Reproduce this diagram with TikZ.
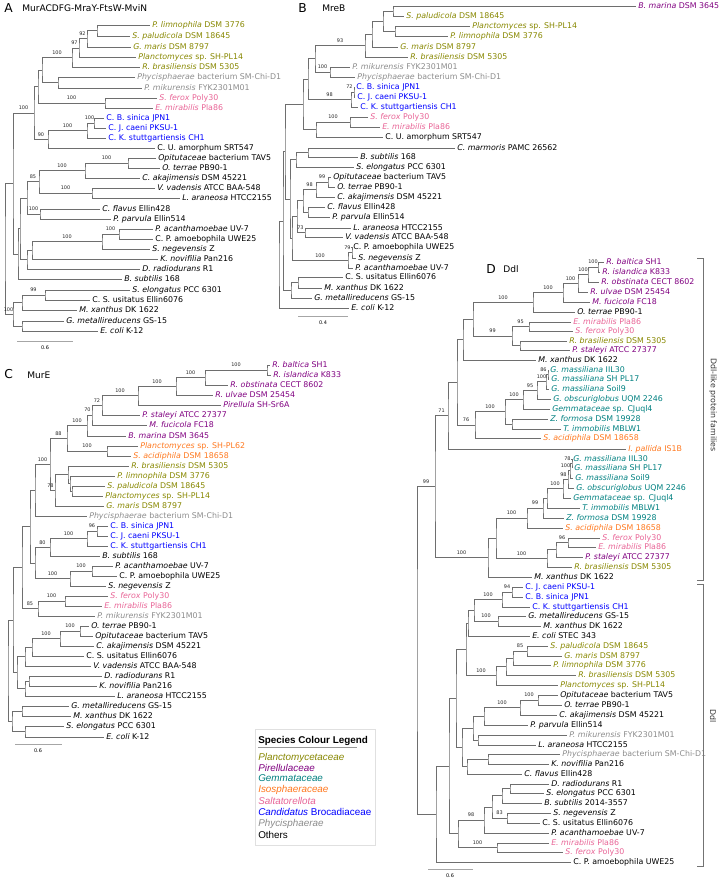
\documentclass[tikz,border=0pt]{standalone}
\usepackage{fontspec}
\setmainfont{DejaVu Sans}
\newfontfamily\legfont{Liberation Sans}
\usetikzlibrary{calc}
\definecolor{cOl}{RGB}{135,135,0}
\definecolor{cPu}{RGB}{128,0,128}
\definecolor{cTe}{RGB}{0,128,128}
\definecolor{cOr}{RGB}{255,120,30}
\definecolor{cPk}{RGB}{232,100,150}
\definecolor{cBl}{RGB}{0,0,255}
\definecolor{cGr}{RGB}{140,140,140}
\definecolor{cBk}{RGB}{0,0,0}
\definecolor{cBr}{RGB}{110,110,110}
\tikzset{
 leaf/.style={font=\fontsize{5.9}{6}\selectfont, inner sep=0pt, anchor=base west},
 supl/.style={font=\fontsize{3.7}{4}\selectfont, inner sep=0pt, anchor=base, text=black!85},
 branch/.style={draw=cBr, line width=0.55pt},
 ptitle/.style={font=\fontsize{9.2}{10}\selectfont, inner sep=0pt, anchor=base west},
 stitle/.style={font=\fontsize{6.8}{7}\selectfont, inner sep=0pt, anchor=base west},
 scalebar/.style={draw=black!35, line width=0.55pt},
 sclab/.style={font=\fontsize{3.7}{4}\selectfont, inner sep=0pt, anchor=base},
 brk/.style={draw=black!55, line width=0.55pt},
 brklab/.style={font=\fontsize{5.9}{6}\selectfont, inner sep=0pt, rotate=-90, text=black!80},
 legitem/.style={font=\legfont\fontsize{7.4}{8}\selectfont, inner sep=0pt, anchor=base west},
}
\newcommand\lf[6]{\coordinate (#1) at ({#2-2},#3);
 \node[leaf,text=#4] (#1t) at ([yshift=-2.2pt]#2,#3) {\textit{#5}#6};}
\newcommand\nd[4]{\path let \p1=(#3), \p2=(#4) in coordinate (#1) at ({#2*0.75pt},{0.5*(\y1+\y2)});
 \draw[branch] (#3) -| (#1) |- (#4);}
\newcommand\spl[3]{\path let \p1=(#1), \p2=(#2) in node[supl] (#1s) at ({min(0.5*(\x1+\x2),\x1-3.4pt)},{\y1+2.4pt}) {#3};}
\begin{document}
\begin{tikzpicture}[x=0.75pt,y=-0.75pt]
\useasboundingbox (0,0) rectangle (720,879);
% ================= Panel A =================
\node[ptitle] (tA) at (4,12) {A};
\node[stitle] (tAt) at (22,11) {MurACDFG-MraY-FtsW-MviN};
\lf{a1}{152}{25}{cOl}{P. limnophila}{ DSM 3776}
\lf{a2}{132}{36}{cOl}{S. paludicola}{ DSM 18645}
\lf{a3}{133}{47}{cOl}{G. maris}{ DSM 8797}
\lf{a4}{138}{57}{cOl}{Planctomyces}{ sp. SH-PL14}
\lf{a5}{142}{67}{cOl}{R. brasiliensis}{ DSM 5305}
\lf{a6}{137}{77}{cGr}{Phycisphaerae}{ bacterium SM-Chi-D1}
\lf{a7}{144}{88}{cGr}{P. mikurensis}{ FYK2301M01}
\lf{a8}{159}{98}{cPk}{S. ferox}{ Poly30}
\lf{a9}{155}{108}{cPk}{E. mirabilis}{ Pla86}
\lf{a10}{106}{118}{cBl}{}{C. B. sinica JPN1}
\lf{a11}{108}{128}{cBl}{}{C. J. caeni PKSU-1}
\lf{a12}{108}{138}{cBl}{}{C. K. stuttgartiensis CH1}
\lf{a13}{157}{148}{cBk}{}{C. U. amorphum SRT547}
\lf{a14}{158}{158}{cBk}{Opitutaceae}{ bacterium TAV5}
\lf{a15}{162}{168}{cBk}{O. terrae}{ PB90-1}
\lf{a16}{142}{178}{cBk}{C. akajimensis}{ DSM 45221}
\lf{a17}{157}{188}{cBk}{V. vadensis}{ ATCC BAA-548}
\lf{a18}{182}{198}{cBk}{L. araneosa}{ HTCC2155}
\lf{a19}{102}{209}{cBk}{C. flavus}{ Ellin428}
\lf{a20}{113}{219}{cBk}{P. parvula}{ Ellin514}
\lf{a21}{155}{229}{cBk}{P. acanthamoebae}{ UV-7}
\lf{a22}{155}{239}{cBk}{}{C. P. amoebophila UWE25}
\lf{a23}{152}{249}{cBk}{S. negevensis}{ Z}
\lf{a24}{160}{259}{cBk}{K. novifilia}{ Pan216}
\lf{a25}{142}{269}{cBk}{D. radiodurans}{ R1}
\lf{a26}{124}{279}{cBk}{B. subtilis}{ 168}
\lf{a27}{132}{290}{cBk}{S. elongatus}{ PCC 6301}
\lf{a28}{92}{300}{cBk}{}{C. S. usitatus Ellin6076}
\lf{a29}{79}{310}{cBk}{M. xanthus}{ DK 1622}
\lf{a30}{66}{321}{cBk}{G. metallireducens}{ GS-15}
\lf{a31}{100}{331}{cBk}{E. coli}{ K-12}
\nd{aa}{97}{a1}{a2}
\nd{a92}{87}{aa}{a3}
\nd{a97}{79}{a92}{a4}
\nd{a100}{72}{a97}{a5}
\nd{ap}{58}{a6}{a7}
\nd{ab}{42}{a100}{ap}
\nd{as}{105}{a8}{a9}
\nd{ac}{38}{ab}{as}
\nd{abs}{94}{a10}{a11}
\nd{abk}{87}{abs}{a12}
\nd{a90}{48}{abk}{a13}
\nd{atop}{34}{ac}{a90}
\nd{ao}{128}{a14}{a15}
\nd{ao2}{85}{ao}{a16}
\nd{av}{92}{a17}{a18}
\nd{a85}{39}{ao2}{av}
\nd{af}{40}{a19}{a20}
\nd{ap1}{27}{a85}{af}
\nd{apc}{119}{a21}{a22}
\nd{ach}{102}{apc}{a23}
\nd{ak}{32}{ach}{a24}
\nd{ad}{27}{ak}{a25}
\nd{aq1}{20}{ap1}{ad}
\nd{aq2}{18}{aq1}{a26}
\nd{aI}{13}{atop}{aq2}
\nd{a99}{45}{a27}{a28}
\nd{am}{22}{a99}{a29}
\nd{ag}{22}{a30}{a31}
\nd{aO}{13}{am}{ag}
\nd{aR}{5}{aI}{aO}
\spl{a92}{a97}{92}
\spl{a97}{a100}{97}
\spl{a100}{ab}{100}
\spl{as}{ac}{100}
\spl{abs}{abk}{100}
\spl{abk}{a90}{100}
\spl{a90}{atop}{90}
\spl{atop}{aI}{100}
\spl{ao}{ao2}{100}
\spl{ao2}{a85}{100}
\spl{av}{a85}{100}
\spl{a85}{ap1}{85}
\spl{af}{ap1}{100}
\spl{apc}{ach}{100}
\spl{ach}{ak}{100}
\spl{a99}{am}{99}
\spl{aO}{aR}{100}
\coordinate (sA1) at (17,341); \coordinate (sA2) at (73,341);
\draw[scalebar] (sA1) -- (sA2);
\node[sclab] (sAl) at (45,349) {0.6};
% ================= Panel B =================
\node[ptitle] (tB) at (298,12) {B};
\node[stitle] (tBt) at (322,11) {MreB};
\lf{b1}{638}{6}{cPu}{B. marina}{ DSM 3645}
\lf{b2}{406}{16}{cOl}{S. paludicola}{ DSM 18645}
\lf{b3}{472}{26}{cOl}{Planctomyces}{ sp. SH-PL14}
\lf{b4}{450}{36}{cOl}{P. limnophila}{ DSM 3776}
\lf{b5}{400}{47}{cOl}{G. maris}{ DSM 8797}
\lf{b6}{410}{57}{cOl}{R. brasiliensis}{ DSM 5305}
\lf{b7}{352}{67}{cGr}{P. mikurensis}{ FYK2301M01}
\lf{b8}{357}{77}{cGr}{Phycisphaerae}{ bacterium SM-Chi-D1}
\lf{b9}{356}{87}{cBl}{}{C. B. sinica JPN1}
\lf{b10}{357}{97}{cBl}{}{C. J. caeni PKSU-1}
\lf{b11}{360}{107}{cBl}{}{C. K. stuttgartiensis CH1}
\lf{b12}{370}{117}{cPk}{S. ferox}{ Poly30}
\lf{b13}{382}{127}{cPk}{E. mirabilis}{ Pla86}
\lf{b14}{385}{137}{cBk}{}{C. U. amorphum SRT547}
\lf{b15}{457}{148}{cBk}{C. marmoris}{ PAMC 26562}
\lf{b16}{360}{157}{cBk}{B. subtilis}{ 168}
\lf{b17}{356}{167}{cBk}{S. elongatus}{ PCC 6301}
\lf{b18}{333}{177}{cBk}{Opitutaceae}{ bacterium TAV5}
\lf{b19}{337}{187}{cBk}{O. terrae}{ PB90-1}
\lf{b20}{337}{197}{cBk}{C. akajimensis}{ DSM 45221}
\lf{b21}{327}{207}{cBk}{C. flavus}{ Ellin428}
\lf{b22}{332}{217}{cBk}{P. parvula}{ Ellin514}
\lf{b23}{353}{228}{cBk}{L. araneosa}{ HTCC2155}
\lf{b24}{345}{237}{cBk}{V. vadensis}{ ATCC BAA-548}
\lf{b25}{353}{247}{cBk}{}{C. P. amoebophila UWE25}
\lf{b26}{358}{258}{cBk}{S. negevensis}{ Z}
\lf{b27}{355}{268}{cBk}{P. acanthamoebae}{ UV-7}
\lf{b28}{345}{277}{cBk}{}{C. S. usitatus Ellin6076}
\lf{b29}{324}{288}{cBk}{M. xanthus}{ DK 1622}
\lf{b30}{314}{298}{cBk}{G. metallireducens}{ GS-15}
\lf{b31}{351}{308}{cBk}{E. coli}{ K-12}
\nd{bn1}{393}{b1}{b2}
\nd{bn2}{395}{b3}{b4}
\nd{bn3}{383}{bn1}{bn2}
\nd{bn4}{372}{bn3}{b5}
\nd{b93}{365}{bn4}{b6}
\nd{bp}{330}{b7}{b8}
\nd{bU1}{315}{b93}{bp}
\nd{bbj}{354}{b9}{b10}
\nd{bbk}{351}{bbj}{b11}
\nd{bU2}{308}{bU1}{bbk}
\nd{bs}{350}{b12}{b13}
\nd{bU3}{316}{bs}{b14}
\nd{bU}{303}{bU2}{bU3}
\nd{bBs}{308}{b15}{b16}
\nd{bBse}{296}{bBs}{b17}
\nd{bno}{328}{b18}{b19}
\nd{b98}{316}{bno}{b20}
\nd{bnf}{308}{b21}{b22}
\nd{bN1}{303}{b98}{bnf}
\nd{b73}{305}{b23}{b24}
\nd{bN}{297}{bN1}{b73}
\nd{b79}{352}{b25}{b26}
\nd{bnc}{348}{b79}{b27}
\nd{bM}{292}{bN}{bnc}
\nd{bL}{290}{bBse}{bM}
\nd{bQ}{285}{bU}{bL}
\nd{bnx}{298}{b28}{b29}
\nd{bng}{291}{bnx}{b30}
\nd{bR1}{283}{bQ}{bng}
\nd{bR}{279}{bR1}{b31}
\spl{b93}{bU1}{93}
\spl{bp}{bU1}{100}
\spl{bbj}{bbk}{72}
\spl{bbk}{bU2}{98}
\spl{bs}{bU3}{100}
\spl{bno}{b98}{99}
\spl{b98}{bN1}{98}
\spl{b73}{bN}{73}
\spl{b79}{bnc}{79}
\spl{bnc}{bM}{100}
\coordinate (sB1) at (298,316); \coordinate (sB2) at (348,316);
\draw[scalebar] (sB1) -- (sB2);
\node[sclab] (sBl) at (323,324) {0.4};
% ================= Panel C =================
\node[ptitle] (tC) at (4,378) {C};
\node[stitle] (tCt) at (27,378) {MurE};
\lf{c1}{272}{365}{cPu}{R. baltica}{ SH1}
\lf{c2}{273}{375}{cPu}{R. islandica}{ K833}
\lf{c3}{230}{385}{cPu}{R. obstinata}{ CECT 8602}
\lf{c4}{215}{395}{cPu}{R. ulvae}{ DSM 25454}
\lf{c5}{223}{405}{cPu}{Pirellula}{ SH-Sr6A}
\lf{c6}{142}{415}{cPu}{P. staleyi}{ ATCC 27377}
\lf{c7}{149}{425}{cPu}{M. fucicola}{ FC18}
\lf{c8}{128}{436}{cPu}{B. marina}{ DSM 3645}
\lf{c9}{140}{446}{cOr}{Planctomyces}{ sp. SH-PL62}
\lf{c10}{133}{456}{cOr}{S. acidiphila}{ DSM 18658}
\lf{c11}{131}{466}{cOl}{R. brasiliensis}{ DSM 5305}
\lf{c12}{117}{476}{cOl}{P. limnophila}{ DSM 3776}
\lf{c13}{107}{486}{cOl}{S. paludicola}{ DSM 18645}
\lf{c14}{105}{496}{cOl}{Planctomyces}{ sp. SH-PL14}
\lf{c15}{106}{506}{cOl}{G. maris}{ DSM 8797}
\lf{c16}{89}{516}{cGr}{Phycisphaerae}{ bacterium SM-Chi-D1}
\lf{c17}{110}{526}{cBl}{}{C. B. sinica JPN1}
\lf{c18}{110}{536}{cBl}{}{C. J. caeni PKSU-1}
\lf{c19}{110}{546}{cBl}{}{C. K. stuttgartiensis CH1}
\lf{c20}{102}{556}{cBk}{B. subtilis}{ 168}
\lf{c21}{115}{566}{cBk}{P. acanthamoebae}{ UV-7}
\lf{c22}{119}{576}{cBk}{}{C. P. amoebophila UWE25}
\lf{c23}{108}{586}{cBk}{S. negevensis}{ Z}
\lf{c24}{110}{596}{cPk}{S. ferox}{ Poly30}
\lf{c25}{104}{606}{cPk}{E. mirabilis}{ Pla86}
\lf{c26}{97}{616}{cGr}{P. mikurensis}{ FYK2301M01}
\lf{c27}{91}{626}{cBk}{O. terrae}{ PB90-1}
\lf{c28}{95}{636}{cBk}{Opitutaceae}{ bacterium TAV5}
\lf{c29}{96}{646}{cBk}{C. akajimensis}{ DSM 45221}
\lf{c30}{86}{656}{cBk}{}{C. S. usitatus Ellin6076}
\lf{c31}{93}{666}{cBk}{V. vadensis}{ ATCC BAA-548}
\lf{c32}{104}{676}{cBk}{D. radiodurans}{ R1}
\lf{c33}{99}{686}{cBk}{K. novifilia}{ Pan216}
\lf{c34}{117}{696}{cBk}{L. araneosa}{ HTCC2155}
\lf{c35}{71}{706}{cBk}{G. metallireducens}{ GS-15}
\lf{c36}{73}{716}{cBk}{M. xanthus}{ DK 1622}
\lf{c37}{66}{726}{cBk}{S. elongatus}{ PCC 6301}
\lf{c38}{106}{737}{cBk}{E. coli}{ K-12}
\nd{cr1}{267}{c1}{c2}
\nd{cr2}{205}{cr1}{c3}
\nd{cr3}{176}{cr2}{c4}
\nd{cr4}{138}{cr3}{c5}
\nd{cr5}{102}{cr4}{c6}
\nd{cr6}{92}{cr5}{c7}
\nd{cr7}{87}{cr6}{c8}
\nd{co}{107}{c9}{c10}
\nd{c88}{67}{cr7}{co}
\nd{cC}{72}{c13}{c14}
\nd{cB}{70}{c12}{cC}
\nd{cA}{68}{c11}{cB}
\nd{c78}{55}{cA}{c15}
\nd{c100p}{50}{c88}{c78}
\nd{cP1}{35}{c100p}{c16}
\nd{cbs}{97}{c17}{c18}
\nd{cbk}{87}{cbs}{c19}
\nd{c80}{50}{cbk}{c20}
\nd{cpc}{92}{c21}{c22}
\nd{cch}{70}{cpc}{c23}
\nd{cG1}{35}{c80}{cch}
\nd{cU0}{30}{cP1}{cG1}
\nd{csal}{65}{c24}{c25}
\nd{c85}{38}{csal}{c26}
\nd{cU}{22}{cU0}{c85}
\nd{co1}{80}{c27}{c28}
\nd{cak}{60}{co1}{c29}
\nd{ccs}{32}{cak}{c30}
\nd{cv}{25}{ccs}{c31}
\nd{cd}{29}{c32}{c33}
\nd{cdl}{25}{cd}{c34}
\nd{cLw}{17}{cv}{cdl}
\nd{cT1}{13}{cU}{cLw}
\nd{cgm}{22}{c35}{c36}
\nd{cse}{25}{c37}{c38}
\nd{cout}{12}{cgm}{cse}
\nd{cR}{8}{cT1}{cout}
\spl{cr1}{cr2}{100}
\spl{cr2}{cr3}{100}
\spl{cr3}{cr4}{100}
\spl{cr4}{cr5}{100}
\spl{cr5}{cr6}{72}
\spl{cr6}{cr7}{70}
\spl{cr7}{c88}{100}
\spl{co}{c88}{100}
\spl{c88}{c100p}{88}
\spl{c78}{c100p}{78}
\spl{c100p}{cP1}{100}
\spl{cbs}{cbk}{96}
\spl{cbk}{c80}{100}
\spl{c80}{cG1}{80}
\spl{cpc}{cch}{100}
\spl{cch}{cG1}{100}
\spl{csal}{c85}{100}
\spl{c85}{cU}{85}
\spl{co1}{cak}{100}
\spl{cak}{ccs}{100}
\coordinate (sC1) at (15,744); \coordinate (sC2) at (62,744);
\draw[scalebar] (sC1) -- (sC2);
\node[sclab] (sCl) at (38,752) {0.6};
% ================= Panel D =================
\node[ptitle] (tD) at (486,273) {D};
\node[stitle] (tDt) at (503,272) {Ddl};
\lf{d1}{606}{262}{cPu}{R. baltica}{ SH1}
\lf{d2}{602}{272}{cPu}{R. islandica}{ K833}
\lf{d3}{601}{282}{cPu}{R. obstinata}{ CECT 8602}
\lf{d4}{590}{292}{cPu}{R. ulvae}{ DSM 25454}
\lf{d5}{592}{302}{cPu}{M. fucicola}{ FC18}
\lf{d6}{577}{312}{cBk}{O. terrae}{ PB90-1}
\lf{d7}{573}{322}{cPk}{E. mirabilis}{ Pla86}
\lf{d8}{575}{331}{cPk}{S. ferox}{ Poly30}
\lf{d9}{569}{341}{cOl}{R. brasiliensis}{ DSM 5305}
\lf{d10}{572}{350}{cPu}{P. staleyi}{ ATCC 27377}
\lf{d11}{538}{360}{cBk}{M. xanthus}{ DK 1622}
\lf{d12}{550}{370}{cTe}{G. massiliana}{ IIL30}
\lf{d13}{551}{379}{cTe}{G. massiliana}{ SH PL17}
\lf{d14}{551}{389}{cTe}{G. massiliana}{ Soil9}
\lf{d15}{553}{399}{cTe}{G. obscuriglobus}{ UQM 2246}
\lf{d16}{552}{409}{cTe}{Gemmataceae}{ sp. CJuql4}
\lf{d17}{550}{419}{cTe}{Z. formosa}{ DSM 19928}
\lf{d18}{563}{429}{cTe}{T. immobilis}{ MBLW1}
\lf{d19}{543}{438}{cOr}{S. acidiphila}{ DSM 18658}
\lf{d20}{628}{449}{cOr}{I. pallida}{ IS1B}
\lf{d21}{573}{459}{cTe}{G. massiliana}{ IIL30}
\lf{d22}{574}{468}{cTe}{G. massiliana}{ SH PL17}
\lf{d23}{575}{478}{cTe}{G. massiliana}{ Soil9}
\lf{d24}{576}{488}{cTe}{G. obscuriglobus}{ UQM 2246}
\lf{d25}{573}{498}{cTe}{Gemmataceae}{ sp. CJuql4}
\lf{d26}{582}{508}{cTe}{T. immobilis}{ MBLW1}
\lf{d27}{566}{518}{cTe}{Z. formosa}{ DSM 19928}
\lf{d28}{565}{528}{cOr}{S. acidiphila}{ DSM 18658}
\lf{d29}{602}{538}{cPk}{S. ferox}{ Poly30}
\lf{d30}{598}{547}{cPk}{E. mirabilis}{ Pla86}
\lf{d31}{585}{557}{cPu}{P. staleyi}{ ATCC 27377}
\lf{d32}{574}{567}{cOl}{R. brasiliensis}{ DSM 5305}
\lf{d33}{534}{577}{cBk}{M. xanthus}{ DK 1622}
\lf{d34}{525}{587}{cBl}{}{C. J. caeni PKSU-1}
\lf{d35}{525}{597}{cBl}{}{C. B. sinica JPN1}
\lf{d36}{532}{607}{cBl}{}{C. K. stuttgartiensis CH1}
\lf{d37}{528}{616}{cBk}{G. metallireducens}{ GS-15}
\lf{d38}{543}{626}{cBk}{M. xanthus}{ DK 1622}
\lf{d39}{532}{636}{cBk}{E. coli}{ STEC 343}
\lf{d40}{550}{646}{cOl}{S. paludicola}{ DSM 18645}
\lf{d41}{564}{656}{cOl}{G. maris}{ DSM 8797}
\lf{d42}{553}{665}{cOl}{P. limnophila}{ DSM 3776}
\lf{d43}{578}{675}{cOl}{R. brasiliensis}{ DSM 5305}
\lf{d44}{560}{685}{cOl}{Planctomyces}{ sp. SH-PL14}
\lf{d45}{560}{695}{cBk}{Opitutaceae}{ bacterium TAV5}
\lf{d46}{564}{705}{cBk}{O. terrae}{ PB90-1}
\lf{d47}{559}{715}{cBk}{C. akajimensis}{ DSM 45221}
\lf{d48}{530}{725}{cBk}{P. parvula}{ Ellin514}
\lf{d49}{569}{735}{cGr}{P. mikurensis}{ FYK2301M01}
\lf{d50}{538}{745}{cBk}{L. araneosa}{ HTCC2155}
\lf{d51}{562}{754}{cGr}{Phycisphaerae}{ bacterium SM-Chi-D1}
\lf{d52}{551}{764}{cBk}{K. novifilia}{ Pan216}
\lf{d53}{524}{774}{cBk}{C. flavus}{ Ellin428}
\lf{d54}{551}{784}{cBk}{D. radiodurans}{ R1}
\lf{d55}{546}{793}{cBk}{S. elongatus}{ PCC 6301}
\lf{d56}{544}{803}{cBk}{B. subtilis}{ 2014-3557}
\lf{d57}{553}{813}{cBk}{S. negevensis}{ Z}
\lf{d58}{542}{823}{cBk}{}{C. S. usitatus Ellin6076}
\lf{d59}{551}{833}{cBk}{P. acanthamoebae}{ UV-7}
\lf{d60}{551}{843}{cPk}{E. mirabilis}{ Pla86}
\lf{d61}{565}{852}{cPk}{S. ferox}{ Poly30}
\lf{d62}{573}{862}{cBk}{}{C. P. amoebophila UWE25}
\nd{dn1}{598}{d1}{d2}
\nd{dn2}{588}{dn1}{d3}
\nd{dn3}{578}{dn2}{d4}
\nd{dn4}{563}{dn3}{d5}
\nd{dn5}{533}{dn4}{d6}
\nd{dsf}{529}{d7}{d8}
\nd{drp}{520}{d9}{d10}
\nd{d95}{512}{dsf}{drp}
\nd{dx}{473}{dn5}{d95}
\nd{dmx}{463}{dx}{d11}
\nd{dg1}{548}{d12}{d13}
\nd{dg2}{546}{dg1}{d14}
\nd{dg3}{537}{dg2}{d15}
\nd{dg4}{523}{dg3}{d16}
\nd{dzt}{512}{d17}{d18}
\nd{dg5}{505}{dg4}{dzt}
\nd{d76}{475}{dg5}{d19}
\nd{dW}{457}{dmx}{d76}
\nd{d71}{448}{dW}{d20}
\nd{dh1}{572}{d21}{d22}
\nd{dh2}{570}{dh1}{d23}
\nd{dh3}{568}{dh2}{d24}
\nd{dh4}{563}{dh3}{d25}
\nd{dh5}{547}{dh4}{d26}
\nd{dh6}{543}{dh5}{d27}
\nd{dh7}{527}{dh6}{d28}
\nd{ds1}{568}{d29}{d30}
\nd{ds2}{556}{ds1}{d31}
\nd{ds3}{547}{ds2}{d32}
\nd{dh8}{496}{dh7}{ds3}
\nd{dy}{488}{dh8}{d33}
\nd{d99}{435}{d71}{dy}
\nd{db1}{512}{d34}{d35}
\nd{db2}{502}{db1}{d36}
\nd{dgm}{498}{d37}{d38}
\nd{db3}{474}{db2}{dgm}
\nd{db4}{468}{db3}{d39}
\nd{dp1}{527}{d40}{d41}
\nd{dp2}{513}{dp1}{d42}
\nd{dp3}{506}{dp2}{d43}
\nd{dp4}{496}{dp3}{d44}
\nd{dj1}{466}{db4}{dp4}
\nd{do1}{538}{d45}{d46}
\nd{do2}{520}{do1}{d47}
\nd{do3}{484}{do2}{d48}
\nd{do4}{478}{d49}{d50}
\nd{do5}{473}{do3}{do4}
\nd{dk1}{488}{d51}{d52}
\nd{dk2}{467}{dk1}{d53}
\nd{dj2}{462}{do5}{dk2}
\nd{dj3}{456}{dj1}{dj2}
\nd{dr1}{510}{d54}{d55}
\nd{dr2}{502}{dr1}{d56}
\nd{dr3}{507}{d57}{d58}
\nd{dr4}{492}{dr2}{dr3}
\nd{dr5}{484}{dr4}{d59}
\nd{dsa}{497}{d60}{d61}
\nd{dr6}{458}{dr5}{dsa}
\nd{dr7}{449}{dj3}{dr6}
\nd{dd0}{436}{dr7}{d62}
\nd{dR}{417}{d99}{dd0}
\spl{dn1}{dn2}{100}
\spl{dn2}{dn3}{100}
\spl{dn3}{dn4}{100}
\spl{dn4}{dn5}{100}
\spl{dn5}{dx}{100}
\spl{dsf}{d95}{95}
\spl{d95}{dx}{99}
\spl{dg1}{dg2}{86}
\spl{dg2}{dg3}{100}
\spl{dg3}{dg4}{95}
\spl{dg4}{dg5}{100}
\spl{dg5}{d76}{100}
\spl{d76}{dW}{76}
\spl{d71}{d99}{71}
\spl{dh1}{dh2}{78}
\spl{dh2}{dh3}{100}
\spl{dh3}{dh4}{98}
\spl{dh4}{dh5}{100}
\spl{dh6}{dh7}{99}
\spl{dh7}{dh8}{100}
\spl{ds1}{ds2}{96}
\spl{ds3}{dh8}{100}
\spl{dy}{d99}{100}
\spl{d99}{dR}{99}
\spl{db1}{db2}{94}
\spl{db2}{db3}{100}
\spl{dgm}{db3}{100}
\spl{dp1}{dp2}{85}
\spl{dp4}{dj1}{100}
\spl{do1}{do2}{100}
\spl{do2}{do3}{100}
\spl{dr3}{dr4}{83}
\spl{dr5}{dr6}{98}
\spl{dsa}{dr6}{100}
\coordinate (sD1) at (428,869); \coordinate (sD2) at (473,869);
\draw[scalebar] (sD1) -- (sD2);
\node[sclab] (sDl) at (450,877) {0.6};
% brackets
\coordinate (k1) at (697,258); \coordinate (k2) at (703,258);
\coordinate (k3) at (703,580); \coordinate (k4) at (697,580);
\draw[brk] (k1) -- (k2) -- (k3) -- (k4);
\coordinate (k5) at (697,584); \coordinate (k6) at (703,584);
\coordinate (k7) at (703,866); \coordinate (k8) at (697,866);
\draw[brk] (k5) -- (k6) -- (k7) -- (k8);
\node[brklab] (kl1) at (713,405) {Ddl-like protein families};
\node[brklab] (kl2) at (713,716) {Ddl};
% ================= Legend =================
\node[draw=black!12, fill=white, minimum width=90pt, minimum height=87pt, anchor=north west, inner sep=0pt] (legbox) at (255,729) {};
\node[legitem] (lgT) at (258,743) {\textbf{Species Colour Legend}};
\coordinate (lu1) at (258,747); \coordinate (lu2) at (357,747);
\draw[draw=black!40, line width=0.5pt] (lu1) -- (lu2);
\node[legitem, text=cOl] (lg1) at (258,760.6) {\textit{Planctomycetaceae}};
\node[legitem, text=cPu] (lg2) at (258,771.6) {\textit{Pirellulaceae}};
\node[legitem, text=cTe] (lg3) at (258,781.6) {\textit{Gemmataceae}};
\node[legitem, text=cOr] (lg4) at (258,792.6) {\textit{Isosphaeraceae}};
\node[legitem, text=cPk] (lg5) at (258,804.6) {\textit{Saltatorellota}};
\node[legitem, text=cBl] (lg6) at (258,815.6) {\textit{Candidatus} Brocadiaceae};
\node[legitem, text=cGr] (lg7) at (258,826.6) {\textit{Phycisphaerae}};
\node[legitem, text=cBk] (lg8) at (258,838.6) {Others};
\end{tikzpicture}
\end{document}
